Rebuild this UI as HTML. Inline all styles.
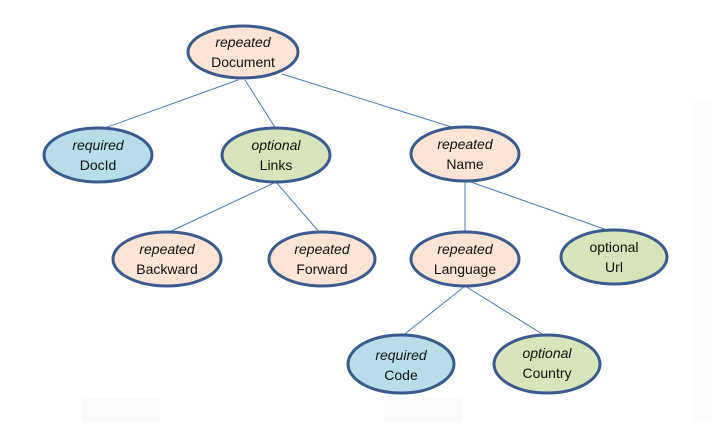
<!DOCTYPE html>
<html><head><style>
html,body{margin:0;padding:0;background:#fff;}
svg text{font-family:"Liberation Sans",sans-serif;font-size:14px;fill:#111;text-anchor:middle;}
</style></head><body>
<svg width="712" height="422" viewBox="0 0 712 422" xmlns="http://www.w3.org/2000/svg">
<rect x="0" y="0" width="712" height="422" fill="#fff"/>
<rect x="82" y="398" width="78" height="24" fill="#fbfbfb"/>
<rect x="384" y="398" width="78" height="24" fill="#fbfbfb"/>
<rect x="692" y="100" width="20" height="322" fill="#fcfcfc"/>
<g stroke="#4f7bb5" stroke-width="1">
<line x1="238" y1="80" x2="102" y2="129"/>
<line x1="245" y1="80" x2="276" y2="129"/>
<line x1="282" y1="74" x2="458" y2="129"/>
<line x1="276" y1="182" x2="167" y2="233"/>
<line x1="276" y1="182" x2="320" y2="233"/>
<line x1="465" y1="181" x2="465" y2="233"/>
<line x1="468" y1="181" x2="610" y2="231"/>
<line x1="465" y1="286" x2="401" y2="337"/>
<line x1="465" y1="286" x2="547" y2="337"/>
</g>
<g stroke="#3b5b8c" stroke-width="3">
<ellipse cx="243" cy="52" rx="55" ry="26" fill="#fce4d6"/>
<ellipse cx="98" cy="155" rx="54" ry="27" fill="#b7dde8"/>
<ellipse cx="276" cy="155" rx="54" ry="27" fill="#d7e4bc"/>
<ellipse cx="465" cy="154" rx="54" ry="27" fill="#fce4d6"/>
<ellipse cx="167" cy="259" rx="54" ry="27" fill="#fce4d6"/>
<ellipse cx="322" cy="259" rx="53" ry="27" fill="#fce4d6"/>
<ellipse cx="465" cy="259" rx="54" ry="27" fill="#fce4d6"/>
<ellipse cx="614" cy="257" rx="53" ry="27" fill="#d7e4bc"/>
<ellipse cx="401" cy="364" rx="53" ry="29" fill="#b7dde8"/>
<ellipse cx="547" cy="364" rx="53" ry="29" fill="#d7e4bc"/>
</g>
<text x="243" y="47" font-style="italic">repeated</text><text x="243" y="67">Document</text>
<text x="98" y="150" font-style="italic">required</text><text x="98" y="170">DocId</text>
<text x="276" y="150" font-style="italic">optional</text><text x="276" y="170">Links</text>
<text x="465" y="149" font-style="italic">repeated</text><text x="465" y="169">Name</text>
<text x="167" y="254" font-style="italic">repeated</text><text x="167" y="274">Backward</text>
<text x="322" y="254" font-style="italic">repeated</text><text x="322" y="274">Forward</text>
<text x="465" y="254" font-style="italic">repeated</text><text x="465" y="274">Language</text>
<text x="614" y="252">optional</text><text x="614" y="272">Url</text>
<text x="401" y="360" font-style="italic">required</text><text x="401" y="380">Code</text>
<text x="547" y="358" font-style="italic">optional</text><text x="547" y="378">Country</text>
</svg>
</body></html>
